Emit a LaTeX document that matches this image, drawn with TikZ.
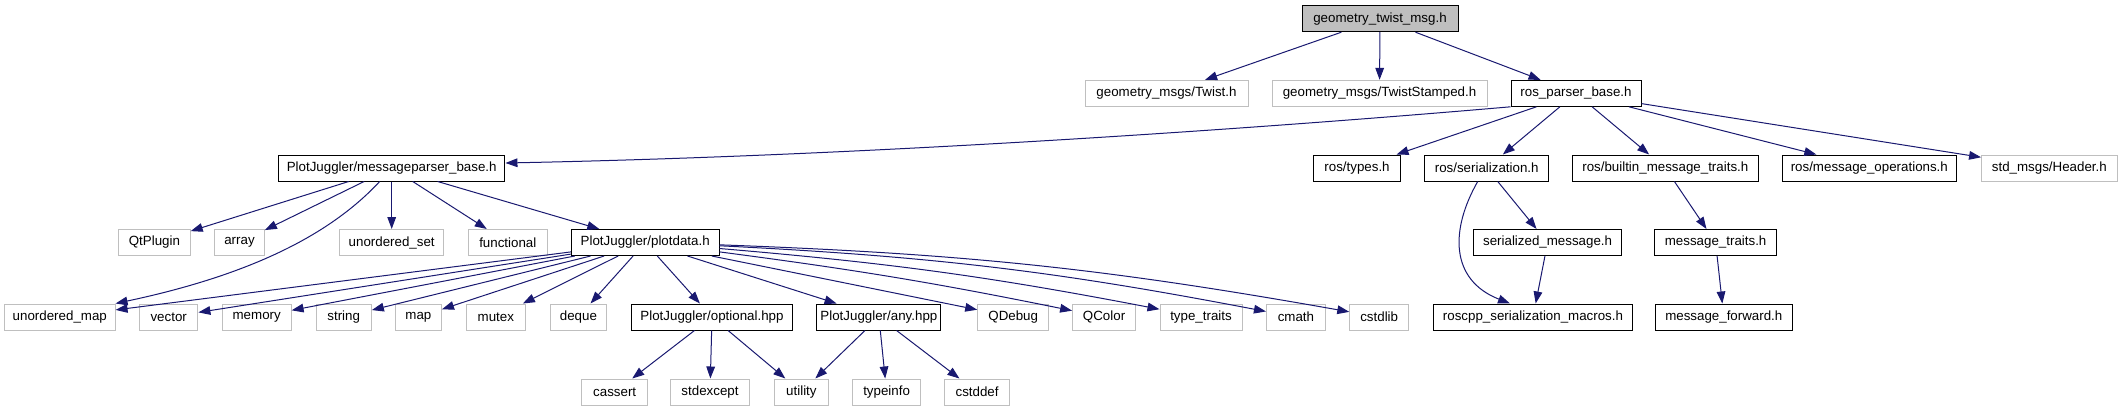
\documentclass[tikz,border=0pt]{standalone}
\usepackage{fontspec}
\setmainfont{Liberation Sans}
\usetikzlibrary{arrows.meta}
\definecolor{edgeblue}{HTML}{191970}
\definecolor{sysgray}{HTML}{BFBFBF}
\begin{document}
\begin{tikzpicture}
% include graph, one unit is one pixel of the doxygen output
\def\px{0.75pt}
\begin{scope}[x=\px, y=-\px,
  box/.style={rectangle, inner sep=0pt, minimum height=26*\px, line width=0.75pt,
    font=\fontsize{10pt}{12pt}\selectfont},
  boxw/.style={minimum width=#1*\px},
  incfile/.style={box, draw=black, fill=white},
  sysfile/.style={box, draw=sysgray, fill=white},
  curfile/.style={box, draw=black, fill=sysgray},
  dep/.style={draw=edgeblue, line width=0.75pt, -{Triangle[length=9pt, width=6.5pt]}}]
  \useasboundingbox (0,0) rectangle (2123,411);
  % Files, top to bottom
  \node[curfile, boxw=156] (root) at (1380,18.7) {geometry\_twist\_msg.h};
  \node[sysfile, boxw=163] (twist) at (1166.5,93.3) {geometry\_msgs/Twist.h};
  \node[sysfile, boxw=215] (twiststamped) at (1379.5,93.3) {geometry\_msgs/TwistStamped.h};
  \node[incfile, boxw=130] (rosparser) at (1576,93.3) {ros\_parser\_base.h};
  \node[incfile, boxw=226.5] (msgparser) at (391.7,168) {PlotJuggler/messageparser\_base.h};
  \node[incfile, boxw=87.5] (rostypes) at (1357,168) {ros/types.h};
  \node[incfile, boxw=124] (rosser) at (1486.7,168) {ros/serialization.h};
  \node[incfile, boxw=186] (builtin) at (1665.3,168) {ros/builtin\_message\_traits.h};
  \node[incfile, boxw=174.6] (msgops) at (1869.3,168) {ros/message\_operations.h};
  \node[sysfile, boxw=135.4] (stdheader) at (2049.3,168) {std\_msgs/Header.h};
  \node[sysfile, boxw=71.6] (qtplugin) at (154.4,242.5) {QtPlugin};
  \node[sysfile, boxw=49.8] (array) at (239.5,242.5) {array};
  \node[sysfile, boxw=104] (uset) at (391.7,242.5) {unordered\_set};
  \node[sysfile, boxw=78.4] (functional) at (507.8,242.5) {functional};
  \node[incfile, boxw=147.6] (plotdata) at (645.2,242.5) {PlotJuggler/plotdata.h};
  \node[incfile, boxw=147.8] (sermsg) at (1547.6,242.5) {serialized\_message.h};
  \node[incfile, boxw=121.8] (msgtraits) at (1715.6,242.5) {message\_traits.h};
  \node[sysfile, boxw=110.5] (umap) at (59.8,317) {unordered\_map};
  \node[sysfile, boxw=58.4] (vector) at (168.7,317) {vector};
  \node[sysfile, boxw=68.8] (memory) at (256.7,317) {memory};
  \node[sysfile, boxw=55.3] (string) at (343.7,317) {string};
  \node[sysfile, boxw=46.2] (map) at (418.4,317) {map};
  \node[sysfile, boxw=58.8] (mutex) at (495.8,317) {mutex};
  \node[sysfile, boxw=56.6] (deque) at (578.4,317) {deque};
  \node[incfile, boxw=161.6] (optional) at (712,317) {PlotJuggler/optional.hpp};
  \node[incfile, boxw=124.1] (any) at (878.9,317) {PlotJuggler/any.hpp};
  \node[sysfile, boxw=71] (qdebug) at (1013.2,317) {QDebug};
  \node[sysfile, boxw=63] (qcolor) at (1104.1,317) {QColor};
  \node[sysfile, boxw=82] (typetraits) at (1201,317) {type\_traits};
  \node[sysfile, boxw=58.9] (cmath) at (1295.9,317) {cmath};
  \node[sysfile, boxw=58.8] (cstdlib) at (1379.2,317) {cstdlib};
  \node[incfile, boxw=198.8] (macros) at (1533,317) {roscpp\_serialization\_macros.h};
  \node[incfile, boxw=136.4] (msgfwd) at (1723.8,317) {message\_forward.h};
  \node[sysfile, boxw=65.7] (cassert) at (614.7,392) {cassert};
  \node[sysfile, boxw=79.7] (stdexcept) at (710,392) {stdexcept};
  \node[sysfile, boxw=53.4] (utility) at (801.4,392) {utility};
  \node[sysfile, boxw=67.9] (typeinfo) at (886.6,392) {typeinfo};
  \node[sysfile, boxw=65.2] (cstddef) at (977.1,392) {cstddef};
  % Include edges
  \draw[dep] (root) -- (twist);
  \draw[dep] (root) -- (twiststamped);
  \draw[dep] (root) -- (rosparser);
  \draw[dep] (rosparser.south west) .. controls (1300,125) and (900,155) .. ([yshift=3.75pt]msgparser.east);
  \draw[dep] (rosparser) -- (rostypes);
  \draw[dep] (rosparser) -- (rosser);
  \draw[dep] (rosparser) -- (builtin);
  \draw[dep] (rosparser) -- (msgops);
  \draw[dep] (rosparser) -- (stdheader);
  \draw[dep] (msgparser) -- (qtplugin);
  \draw[dep] (msgparser) -- (array);
  \draw[dep] ([xshift=-9pt]msgparser.south) .. controls (330,235) and (250,275) .. (umap.north east);
  \draw[dep] (msgparser) -- (uset);
  \draw[dep] (msgparser) -- (functional);
  \draw[dep] (msgparser) -- (plotdata);
  \draw[dep] (plotdata) -- (umap);
  \draw[dep] (plotdata) -- (vector);
  \draw[dep] (plotdata) -- (memory);
  \draw[dep] (plotdata) -- (string);
  \draw[dep] (plotdata) -- (map);
  \draw[dep] (plotdata) -- (mutex);
  \draw[dep] (plotdata) -- (deque);
  \draw[dep] (plotdata) -- (optional);
  \draw[dep] (plotdata) -- (any);
  \draw[dep] (plotdata) -- (qdebug);
  \draw[dep] (plotdata) to[bend left=2] (qcolor);
  \draw[dep] (plotdata) to[bend left=3] (typetraits);
  \draw[dep] (plotdata) to[bend left=4] (cmath);
  \draw[dep] (plotdata) to[bend left=4] (cstdlib);
  \draw[dep] (optional) -- (cassert);
  \draw[dep] (optional) -- (stdexcept);
  \draw[dep] (optional) -- (utility);
  \draw[dep] (any) -- (utility);
  \draw[dep] (any) -- (typeinfo);
  \draw[dep] (any) -- (cstddef);
  \draw[dep] (rosser) -- (sermsg);
  \draw[dep] ([xshift=-6.75pt]rosser.south) .. controls (1450,230) and (1450,280) .. ([xshift=-17.25pt]macros.north);
  \draw[dep] (sermsg) -- (macros);
  \draw[dep] (builtin) -- (msgtraits);
  \draw[dep] (msgtraits) -- (msgfwd);
\end{scope}
\end{tikzpicture}
\end{document}
